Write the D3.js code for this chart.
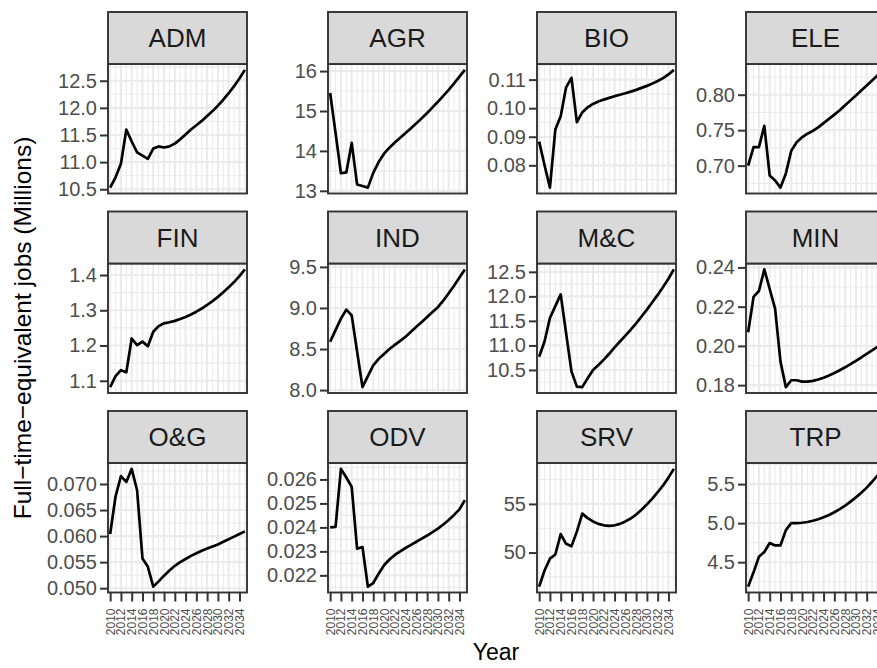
<!DOCTYPE html>
<html>
<head>
<meta charset="utf-8">
<script src="https://cdn.jsdelivr.net/npm/d3@7"></script>
<style>
  body { margin: 0; background: #fff; }
  text { font-family: "Liberation Sans", Arial, sans-serif; }
</style>
</head>
<body>
<div id="chart"></div>
<script>
// years on the x axis
var years = [2010, 2011, 2012, 2013, 2014, 2015, 2016, 2017, 2018, 2019, 2020, 2021, 2022,
             2023, 2024, 2025, 2026, 2027, 2028, 2029, 2030, 2031, 2032, 2033, 2034, 2035];
var xTickLabels = ["2010","2012","2014","2016","2018","2020","2022","2024","2026","2028","2030","2032","2034"];

var sectors = ["ADM","AGR","BIO","ELE","FIN","IND","M&C","MIN","O&G","ODV","SRV","TRP"];

// full-time-equivalent jobs, millions
var adm = [10.53,10.72,10.97,11.60,11.38,11.18,11.12,11.06,11.25,11.29,11.27,11.29,11.34,
           11.42,11.51,11.60,11.68,11.76,11.85,11.94,12.04,12.15,12.27,12.40,12.54,12.70];
var agr = [15.45,14.45,13.44,13.46,14.20,13.16,13.12,13.08,13.45,13.72,13.93,14.08,14.21,
           14.33,14.45,14.57,14.69,14.82,14.95,15.09,15.23,15.38,15.53,15.69,15.86,16.03];
var bio = [0.0883,0.0800,0.0722,0.0925,0.0972,0.1073,0.1106,0.0951,0.0985,0.1003,0.1015,0.1023,0.1030,
           0.1036,0.1042,0.1047,0.1052,0.1058,0.1064,0.1071,0.1078,0.1086,0.1095,0.1105,0.1118,0.1134];
var ele = [0.700,0.726,0.726,0.756,0.686,0.679,0.669,0.689,0.721,0.733,0.740,0.745,0.749,
           0.754,0.760,0.766,0.772,0.778,0.785,0.792,0.799,0.806,0.813,0.820,0.827,0.835];
var fin = [1.082,1.113,1.130,1.124,1.220,1.201,1.211,1.198,1.239,1.255,1.263,1.266,1.270,
           1.275,1.281,1.288,1.296,1.305,1.315,1.326,1.338,1.351,1.365,1.380,1.397,1.416];
var ind = [8.588,8.73,8.87,8.98,8.91,8.47,8.036,8.17,8.30,8.38,8.44,8.50,8.55,
           8.60,8.65,8.71,8.77,8.83,8.89,8.95,9.01,9.09,9.18,9.27,9.37,9.47];
var mnc = [10.77,11.08,11.56,11.80,12.04,11.25,10.47,10.16,10.15,10.33,10.50,10.60,10.71,
           10.83,10.96,11.08,11.20,11.32,11.45,11.59,11.73,11.88,12.03,12.19,12.36,12.55];
var min = [0.207,0.225,0.228,0.239,0.229,0.219,0.192,0.179,0.1825,0.1825,0.1818,0.1818,0.1822,
           0.1829,0.1838,0.1849,0.1862,0.1876,0.1891,0.1907,0.1924,0.1941,0.1959,0.1977,0.1995,0.2014];
var ong = [0.0604,0.0676,0.0715,0.0704,0.0729,0.0688,0.0557,0.0541,0.0503,0.0513,0.0524,0.0534,0.0543,
           0.0550,0.0556,0.0562,0.0567,0.0572,0.0576,0.0580,0.0584,0.0589,0.0594,0.0599,0.0604,0.0609];
var odv = [0.0240,0.02402,0.02644,0.02608,0.02569,0.02311,0.02318,0.02153,0.02168,0.02207,0.02242,0.02266,0.02285,
           0.02300,0.02314,0.02327,0.02340,0.02353,0.02366,0.02380,0.02395,0.02412,0.02431,0.02452,0.02475,0.02514];
var srv = [46.5,48.16,49.37,49.8,51.9,50.9,50.66,52.15,54.0,53.54,53.2,52.95,52.8,
           52.75,52.8,52.95,53.2,53.5,53.9,54.4,54.95,55.55,56.2,56.9,57.7,58.6];
var trp = [4.187,4.37,4.57,4.63,4.745,4.715,4.715,4.91,5.0,5.0,5.005,5.015,5.03,
           5.05,5.075,5.105,5.14,5.18,5.225,5.275,5.33,5.39,5.455,5.53,5.61,5.695];

// y tick labels per panel (free scales)
var admTicks = ["10.5","11.0","11.5","12.0","12.5"];
var agrTicks = ["13","14","15","16"];
var bioTicks = ["0.08","0.09","0.10","0.11"];
var eleTicks = ["0.70","0.75","0.80"];
var finTicks = ["1.1","1.2","1.3","1.4"];
var indTicks = ["8.0","8.5","9.0","9.5"];
var mncTicks = ["10.5","11.0","11.5","12.0","12.5"];
var minTicks = ["0.18","0.20","0.22","0.24"];
var ongTicks = ["0.050","0.055","0.060","0.065","0.070"];
var odvTicks = ["0.022","0.023","0.024","0.025","0.026"];
var srvTicks = ["50","55"];
var trpTicks = ["4.5","5.0","5.5"];

var valueList = [adm, agr, bio, ele, fin, ind, mnc, min, ong, odv, srv, trp];
var tickList = [admTicks, agrTicks, bioTicks, eleTicks, finTicks, indTicks,
                mncTicks, minTicks, ongTicks, odvTicks, srvTicks, trpTicks];

var series = sectors.map(function(s, i){
    return { name: s, values: valueList[i], ticks: tickList[i] };
});

// layout
var W = 877, H = 668;
var colLeft = [108, 328, 537, 746], panelW = 139;
var rowTop = [12, 211.5, 411], stripH = 52, panelH = 129.5;
var ink = "#333333", tickText = "#4d4d4d", grid = "#ebebeb";
var font = "'Liberation Sans', Arial, sans-serif";

var svg = d3.select("#chart").append("svg")
    .attr("width", W)
    .attr("height", H)
    .style("background-color", "#fff");

var xPad = 0.4;

series.forEach(function(s, i){
    var col = i % 4, row = Math.floor(i / 4);
    var left = colLeft[col], top = rowTop[row] + stripH;

    var x = d3.scaleLinear()
        .domain([d3.min(years) - xPad, d3.max(years) + xPad])
        .range([left, left + panelW]);

    var lo = d3.min(s.values), hi = d3.max(s.values), r = hi - lo;
    var y = d3.scaleLinear()
        .domain([lo - 0.05 * r, hi + 0.05 * r])
        .range([top + panelH, top]);

    var g = svg.append("g").attr("class", "panel");

    g.append("rect")
        .attr("x", left).attr("y", top)
        .attr("width", panelW).attr("height", panelH)
        .attr("fill", "#fff");

    // grid: minor between majors, then majors
    var yMajor = s.ticks.map(Number);
    var step = yMajor[1] - yMajor[0];
    var yMinor = [];
    var ext = [yMajor[0] - step].concat(yMajor, [yMajor[yMajor.length - 1] + step]);
    for (var k = 0; k < ext.length - 1; k++) yMinor.push((ext[k] + ext[k + 1]) / 2);
    yMinor = yMinor.filter(function(v){ return v >= y.domain()[0] && v <= y.domain()[1]; });

    var xMajor = xTickLabels.map(Number);
    var xMinor = years.filter(function(v){ return xMajor.indexOf(v) < 0; });

    g.selectAll(".ymin").data(yMinor).enter().append("line")
        .attr("x1", left).attr("x2", left + panelW)
        .attr("y1", function(d){ return y(d); }).attr("y2", function(d){ return y(d); })
        .attr("stroke", grid).attr("stroke-width", 1.1);
    g.selectAll(".xmin").data(xMinor).enter().append("line")
        .attr("y1", top).attr("y2", top + panelH)
        .attr("x1", function(d){ return x(d); }).attr("x2", function(d){ return x(d); })
        .attr("stroke", grid).attr("stroke-width", 1.1);
    g.selectAll(".ymaj").data(yMajor).enter().append("line")
        .attr("x1", left).attr("x2", left + panelW)
        .attr("y1", function(d){ return y(d); }).attr("y2", function(d){ return y(d); })
        .attr("stroke", grid).attr("stroke-width", 2.1);
    g.selectAll(".xmaj").data(xMajor).enter().append("line")
        .attr("y1", top).attr("y2", top + panelH)
        .attr("x1", function(d){ return x(d); }).attr("x2", function(d){ return x(d); })
        .attr("stroke", grid).attr("stroke-width", 2.1);

    var line = d3.line()
        .x(function(d, j){ return x(years[j]); })
        .y(function(d){ return y(d); });

    g.append("path")
        .datum(s.values)
        .attr("d", line)
        .attr("fill", "none")
        .attr("stroke", "#000")
        .attr("stroke-width", 2.7)
        .attr("stroke-linejoin", "round");

    g.append("rect")
        .attr("x", left).attr("y", top)
        .attr("width", panelW).attr("height", panelH)
        .attr("fill", "none").attr("stroke", ink).attr("stroke-width", 1.9);

    // strip
    g.append("rect")
        .attr("x", left).attr("y", rowTop[row])
        .attr("width", panelW).attr("height", stripH)
        .attr("fill", "#d9d9d9").attr("stroke", ink).attr("stroke-width", 1.9);
    g.append("text")
        .attr("x", left + panelW / 2).attr("y", rowTop[row] + stripH / 2)
        .attr("text-anchor", "middle").attr("dominant-baseline", "central")
        .attr("fill", "#1a1a1a").style("font-size", "26px")
        .text(s.name);

    // y axis
    var yAxis = d3.axisLeft(y)
        .tickValues(yMajor)
        .tickFormat(function(d, j){ return s.ticks[j]; })
        .tickSize(8).tickPadding(3);
    var ya = g.append("g").attr("transform", "translate(" + left + ",0)").call(yAxis);
    ya.select(".domain").remove();
    ya.selectAll(".tick line").attr("stroke", ink).attr("stroke-width", 2);
    ya.selectAll(".tick text").attr("fill", tickText).style("font-size", "20px")
        .style("font-family", font);

    // x axis only on the bottom row
    if (row === 2) {
        var xAxis = d3.axisBottom(x)
            .tickValues(xMajor)
            .tickFormat(function(d, j){ return xTickLabels[j]; })
            .tickSize(9);
        var xa = g.append("g").attr("transform", "translate(0," + (top + panelH) + ")").call(xAxis);
        xa.select(".domain").remove();
        xa.selectAll(".tick line").attr("stroke", ink).attr("stroke-width", 2);
        xa.selectAll(".tick text")
            .attr("fill", tickText).style("font-size", "12px")
            .style("font-family", font)
            .attr("transform", "rotate(-90)")
            .attr("text-anchor", "end")
            .attr("dominant-baseline", "central")
            .attr("x", -16).attr("y", 0).attr("dy", null);
    }
});

// axis titles, centred on the panel area
svg.append("text")
    .attr("x", 496).attr("y", 660)
    .attr("text-anchor", "middle")
    .attr("fill", "#000").style("font-size", "23px")
    .text("Year");

svg.append("text")
    .attr("transform", "translate(31,328) rotate(-90)")
    .attr("text-anchor", "middle")
    .attr("fill", "#000").style("font-size", "24.5px")
    .text("Full\u2212time\u2212equivalent jobs (Millions)");
</script>
</body>
</html>
